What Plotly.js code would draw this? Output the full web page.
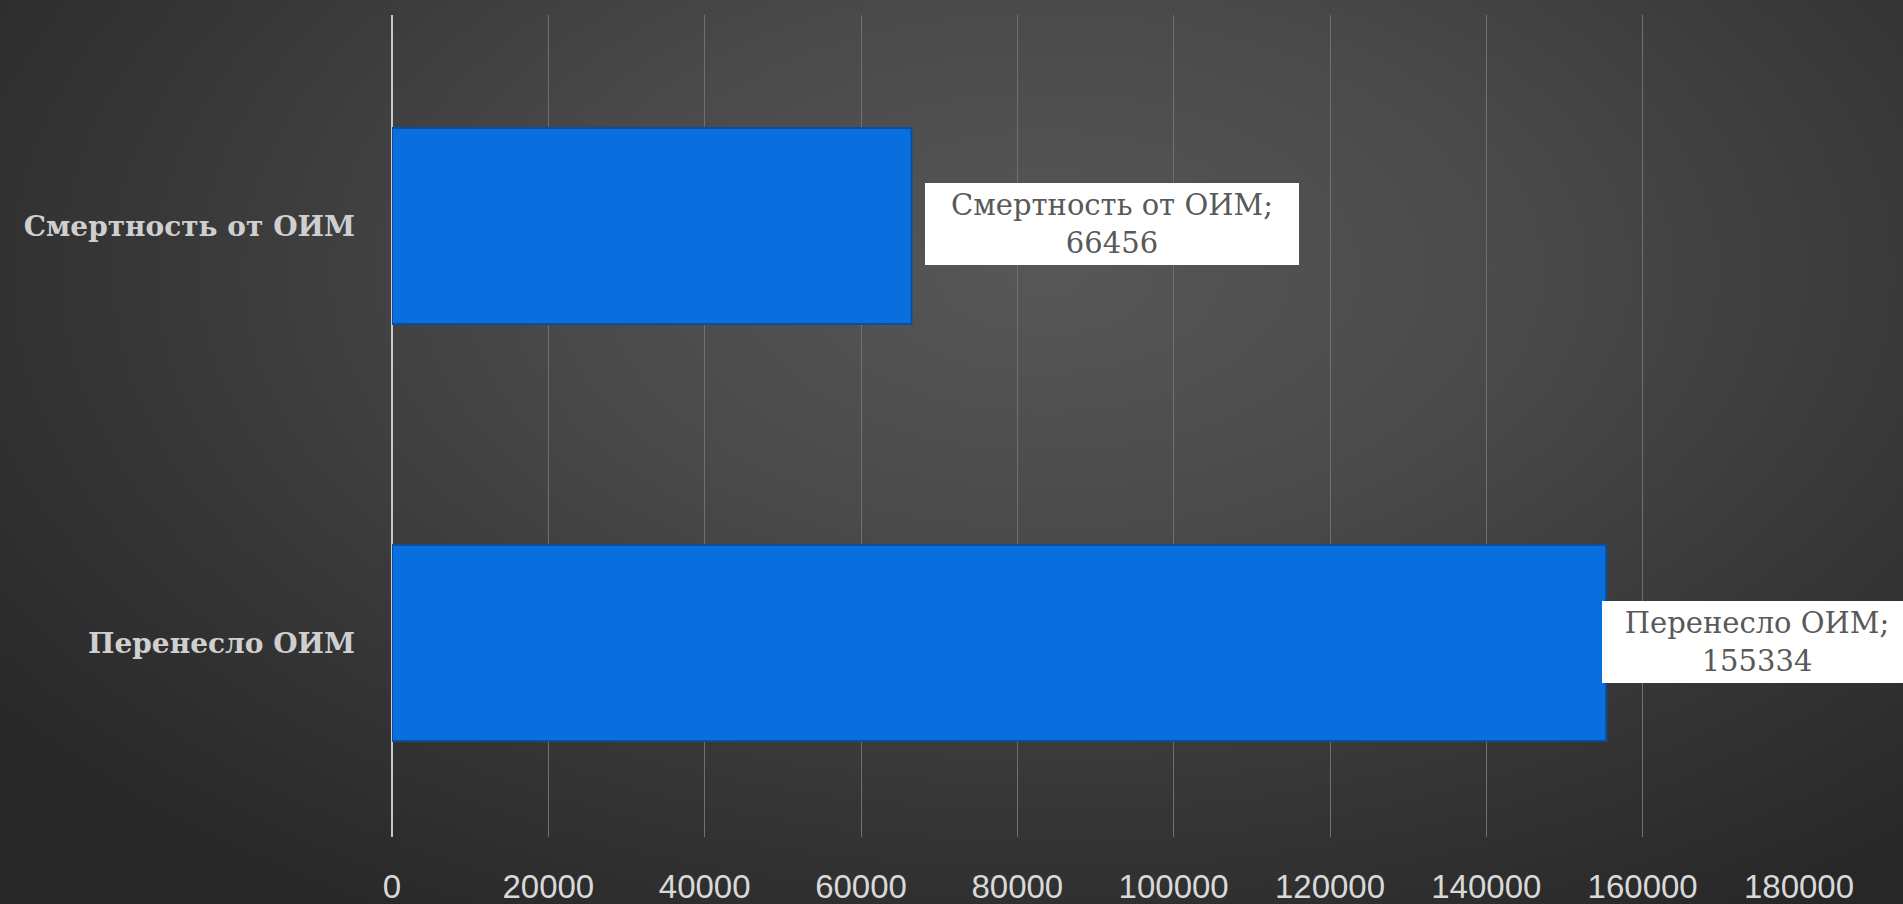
<!DOCTYPE html>
<html>
<head>
<meta charset="utf-8">
<script src="https://cdn.plot.ly/plotly-3.0.1.min.js"></script>
<style>
  html, body { margin: 0; padding: 0; width: 1903px; height: 904px; overflow: hidden; }
  body {
    background: radial-gradient(ellipse 70% 85% at 55% 30%, #575757 0%, #4a4a4a 35%, #363636 70%, #272727 100%);
  }
  #chart { width: 1903px; height: 904px; }
</style>
</head>
<body>
<div id="chart"></div>
<script>
const categories = ["Перенесло ОИМ", "Смертность от ОИМ"];
const values = [155334, 66456];
const tickValues = [0, 20000, 40000, 60000, 80000, 100000, 120000, 140000, 160000, 180000];

const trace = {
  type: "bar",
  orientation: "h",
  y: categories,
  x: values,
  width: 0.47,
  marker: {
    color: "#0a6fde",
    line: { color: "#0a4f9e", width: 2 }
  },
  hoverinfo: "x+y"
};

const boxWidths = [300, 364];
const annotations = categories.map((c, i) => ({
  x: values[i],
  y: c,
  xref: "x",
  yref: "y",
  text: c + ";<br>" + values[i],
  showarrow: false,
  xanchor: "left",
  yanchor: "middle",
  xshift: i === 0 ? -4 : 14,
  yshift: i === 0 ? 1 : 2,
  align: "center",
  width: boxWidths[i],
  bgcolor: "#ffffff",
  borderpad: 5,
  borderwidth: 0,
  font: { family: "DejaVu Serif", size: 29, color: "#595959" }
}));

const layout = {
  width: 1903,
  height: 904,
  paper_bgcolor: "rgba(0,0,0,0)",
  plot_bgcolor: "rgba(0,0,0,0)",
  margin: { l: 392, r: 104, t: 15, b: 67 },
  showlegend: false,
  bargap: 0.53,
  xaxis: {
    range: [0, 180000],
    tickvals: tickValues,
    ticktext: tickValues.map(String),
    showgrid: true,
    gridcolor: "#707070",
    gridwidth: 1,
    zeroline: true,
    zerolinecolor: "#c8c8c8",
    zerolinewidth: 2,
    showline: false,
    ticks: "",
    ticklabelstandoff: 27,
    tickfont: { family: "Liberation Sans", size: 33, color: "#d9d9d9" },
    fixedrange: true
  },
  yaxis: {
    type: "category",
    range: [-0.465, 1.506],
    showgrid: false,
    zeroline: false,
    showline: false,
    ticks: "",
    ticklabelstandoff: 36,
    tickfont: { family: "DejaVu Serif", size: 28, weight: "bold", color: "#cfcfcf" },
    fixedrange: true
  },
  annotations: annotations
};

Plotly.newPlot("chart", [trace], layout, { displayModeBar: false, staticPlot: true });
</script>
</body>
</html>
